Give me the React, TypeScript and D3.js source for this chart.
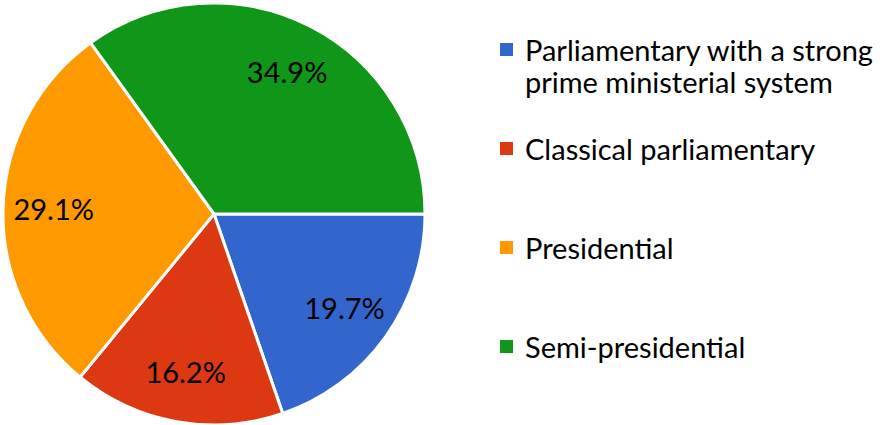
import React from "react";
import * as d3 from "d3";

const categories = [
  "Parliamentary with a strong prime ministerial system",
  "Classical parliamentary",
  "Presidential",
  "Semi-presidential",
];
const legendLines = [
  ["Parliamentary with a strong", "prime ministerial system"],
  ["Classical parliamentary"],
  ["Presidential"],
  ["Semi-presidential"],
];
const values = [19.7, 16.2, 29.1, 34.9];
const colors = ["#3366CC", "#DC3912", "#FF9900", "#109618"];

const W = 886;
const H = 425;
const FONT = "Lato, 'Open Sans', sans-serif";

export default function App() {
  const cx = 214;
  const cy = 214;
  const R = 211;
  const total = d3.sum(values);
  const pie = d3
    .pie<number>()
    .sort(null)
    .value((d) => d)
    .startAngle(Math.PI / 2)
    .endAngle(Math.PI / 2 + 2 * Math.PI);
  const arcs = pie(values);
  const arc = d3.arc<d3.PieArcDatum<number>>().innerRadius(0).outerRadius(R);
  const labelArc = d3
    .arc<d3.PieArcDatum<number>>()
    .innerRadius(R * 0.76)
    .outerRadius(R * 0.76);

  const legendY = d3.scaleLinear().domain([0, 3]).range([61, 358]);

  return (
    <svg
      width={W}
      height={H}
      style={{ position: "absolute", left: 0, top: 0, background: "#fff" }}
      fontFamily={FONT}
    >
      <g transform={`translate(${cx},${cy})`}>
        {arcs.map((a, i) => (
          <path
            key={i}
            d={arc(a) || ""}
            fill={colors[i]}
            stroke="#fff"
            strokeWidth={3}
            strokeLinejoin="round"
          />
        ))}
        {arcs.map((a, i) => {
          const [x, y] = labelArc.centroid(a);
          return (
            <text
              key={i}
              x={x}
              y={y}
              textAnchor="middle"
              dominantBaseline="central"
              fontSize={29}
              fill="#000"
            >
              {((values[i] / total) * 100).toFixed(1)}%
            </text>
          );
        })}
      </g>
      {categories.map((c, i) => (
        <g key={c} transform={`translate(500,${legendY(i)})`}>
          <rect x={0} y={-18} width={13} height={13} fill={colors[i]} />
          {legendLines[i].map((line, j) => (
            <text key={j} x={25} y={j * 32} fontSize={29} fill="#000">
              {line}
            </text>
          ))}
        </g>
      ))}
    </svg>
  );
}
